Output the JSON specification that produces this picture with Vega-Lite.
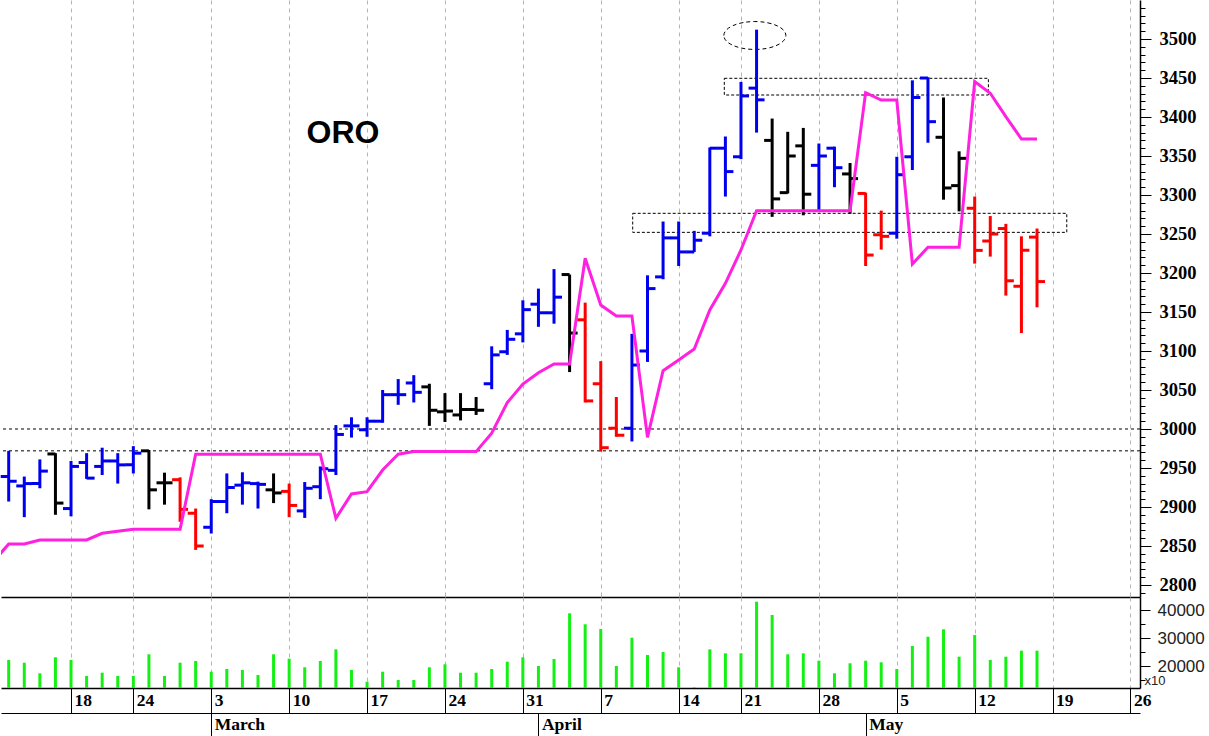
{
  "$schema": "https://vega.github.io/schema/vega-lite/v6.json",
  "padding": 0,
  "background": "white",
  "spacing": 0,
  "bounds": "flush",
  "config": {"view": {"stroke": null}},
  "datasets": {
    "px": [
      {"d": "2025-02-10", "t": 0, "o": null, "h": null, "l": null, "c": null, "k": "b", "s": 2829.5, "v": null},
      {"d": "2025-02-11", "t": 1, "o": 2939, "h": 2972, "l": 2907, "c": 2933, "k": "b", "s": 2852.6, "v": 22321},
      {"d": "2025-02-12", "t": 2, "o": 2927, "h": 2939, "l": 2887, "c": 2930, "k": "b", "s": 2852.6, "v": 21357},
      {"d": "2025-02-13", "t": 3, "o": 2930, "h": 2961, "l": 2924, "c": 2946, "k": "b", "s": 2857.7, "v": 17571},
      {"d": "2025-02-14", "t": 4, "o": 2968, "h": 2969, "l": 2890, "c": 2905, "k": "k", "s": 2857.7, "v": 23286},
      {"d": "2025-02-18", "t": 5, "o": 2898, "h": 2959, "l": 2888, "c": 2952, "k": "b", "s": 2857.7, "v": 22321},
      {"d": "2025-02-19", "t": 6, "o": 2957, "h": 2969, "l": 2936, "c": 2937, "k": "b", "s": 2857.7, "v": 16607},
      {"d": "2025-02-20", "t": 7, "o": 2952, "h": 2976, "l": 2941, "c": 2959, "k": "b", "s": 2866.3, "v": 17786},
      {"d": "2025-02-21", "t": 8, "o": 2959, "h": 2969, "l": 2930, "c": 2954, "k": "b", "s": 2869, "v": 16607},
      {"d": "2025-02-24", "t": 9, "o": 2954, "h": 2978, "l": 2943, "c": 2969, "k": "b", "s": 2871.4, "v": 16607},
      {"d": "2025-02-25", "t": 10, "o": 2972, "h": 2973, "l": 2897, "c": 2922, "k": "k", "s": 2871.4, "v": 24357},
      {"d": "2025-02-26", "t": 11, "o": 2931, "h": 2944, "l": 2903, "c": 2931, "k": "k", "s": 2871.4, "v": 16607},
      {"d": "2025-02-27", "t": 12, "o": 2935, "h": 2938, "l": 2881, "c": 2897, "k": "r", "s": 2871.4, "v": 21357},
      {"d": "2025-02-28", "t": 13, "o": 2892, "h": 2898, "l": 2845, "c": 2850, "k": "r", "s": 2967.6, "v": 21964},
      {"d": "2025-03-03", "t": 14, "o": 2874, "h": 2910, "l": 2866, "c": 2907, "k": "b", "s": 2967.6, "v": 18143},
      {"d": "2025-03-04", "t": 15, "o": 2907, "h": 2943, "l": 2892, "c": 2925, "k": "b", "s": 2967.6, "v": 19107},
      {"d": "2025-03-05", "t": 16, "o": 2928, "h": 2944.5, "l": 2903, "c": 2931, "k": "b", "s": 2967.6, "v": 18750},
      {"d": "2025-03-06", "t": 17, "o": 2930, "h": 2932.5, "l": 2898, "c": 2929, "k": "b", "s": 2967.6, "v": 16964},
      {"d": "2025-03-07", "t": 18, "o": 2922, "h": 2943, "l": 2905, "c": 2918, "k": "k", "s": 2967.6, "v": 24357},
      {"d": "2025-03-10", "t": 19, "o": 2920, "h": 2930, "l": 2887, "c": 2902, "k": "r", "s": 2967.6, "v": 22786},
      {"d": "2025-03-11", "t": 20, "o": 2895, "h": 2932, "l": 2886, "c": 2924, "k": "b", "s": 2967.6, "v": 19714},
      {"d": "2025-03-12", "t": 21, "o": 2926, "h": 2952, "l": 2910, "c": 2949, "k": "b", "s": 2967.6, "v": 21964},
      {"d": "2025-03-13", "t": 22, "o": 2947, "h": 3005, "l": 2941, "c": 2993, "k": "b", "s": 2885.5, "v": 26143},
      {"d": "2025-03-14", "t": 23, "o": 3004, "h": 3015, "l": 2989, "c": 3004, "k": "b", "s": 2916.7, "v": 18750},
      {"d": "2025-03-17", "t": 24, "o": 2999, "h": 3015, "l": 2990, "c": 3010, "k": "b", "s": 2919.7, "v": 14571},
      {"d": "2025-03-18", "t": 25, "o": 3010, "h": 3050, "l": 3008, "c": 3044, "k": "b", "s": 2947.4, "v": 18143},
      {"d": "2025-03-19", "t": 26, "o": 3044, "h": 3064, "l": 3031, "c": 3044, "k": "b", "s": 2967.6, "v": 15179},
      {"d": "2025-03-20", "t": 27, "o": 3059, "h": 3069, "l": 3034, "c": 3047, "k": "b", "s": 2971, "v": 15179},
      {"d": "2025-03-21", "t": 28, "o": 3054, "h": 3058, "l": 3004, "c": 3024, "k": "k", "s": 2971, "v": 19714},
      {"d": "2025-03-24", "t": 29, "o": 3022, "h": 3046, "l": 3009, "c": 3023, "k": "k", "s": 2971, "v": 20786},
      {"d": "2025-03-25", "t": 30, "o": 3018, "h": 3046, "l": 3011, "c": 3025, "k": "k", "s": 2971, "v": 17786},
      {"d": "2025-03-26", "t": 31, "o": 3025, "h": 3041, "l": 3018, "c": 3024, "k": "k", "s": 2971, "v": 17786},
      {"d": "2025-03-27", "t": 32, "o": 3058, "h": 3106, "l": 3051, "c": 3095, "k": "b", "s": 2994.5, "v": 19107},
      {"d": "2025-03-28", "t": 33, "o": 3099, "h": 3127, "l": 3095, "c": 3115, "k": "b", "s": 3033.8, "v": 21714},
      {"d": "2025-03-31", "t": 34, "o": 3122, "h": 3165, "l": 3111, "c": 3153, "k": "b", "s": 3057.7, "v": 23286},
      {"d": "2025-04-01", "t": 35, "o": 3160, "h": 3180, "l": 3131, "c": 3149, "k": "b", "s": 3072.2, "v": 20179},
      {"d": "2025-04-02", "t": 36, "o": 3149, "h": 3205, "l": 3135, "c": 3169, "k": "b", "s": 3083.3, "v": 22679},
      {"d": "2025-04-03", "t": 37, "o": 3198, "h": 3198, "l": 3073, "c": 3123, "k": "k", "s": 3083.3, "v": 39000},
      {"d": "2025-04-04", "t": 38, "o": 3140, "h": 3162, "l": 3034, "c": 3036, "k": "r", "s": 3218.8, "v": 35071},
      {"d": "2025-04-07", "t": 39, "o": 3058, "h": 3087, "l": 2971, "c": 2976, "k": "r", "s": 3159, "v": 33393},
      {"d": "2025-04-08", "t": 40, "o": 3001, "h": 3041, "l": 2990, "c": 2992, "k": "r", "s": 3144.9, "v": 20179},
      {"d": "2025-04-09", "t": 41, "o": 3001, "h": 3122, "l": 2984, "c": 3082, "k": "b", "s": 3144.9, "v": 30286},
      {"d": "2025-04-10", "t": 42, "o": 3100, "h": 3197, "l": 3086, "c": 3180, "k": "b", "s": 2989.3, "v": 24107},
      {"d": "2025-04-11", "t": 43, "o": 3195, "h": 3266, "l": 3192, "c": 3245, "k": "b", "s": 3074.8, "v": 25179},
      {"d": "2025-04-14", "t": 44, "o": 3245, "h": 3266, "l": 3209, "c": 3227, "k": "b", "s": 3088.5, "v": 19714},
      {"d": "2025-04-15", "t": 45, "o": 3227, "h": 3254, "l": 3227, "c": 3242, "k": "b", "s": 3102.6, "v": 12571},
      {"d": "2025-04-16", "t": 46, "o": 3251, "h": 3361, "l": 3247, "c": 3360, "k": "b", "s": 3152.6, "v": 26143},
      {"d": "2025-04-17", "t": 47, "o": 3360, "h": 3375, "l": 3298, "c": 3330, "k": "b", "s": 3186.8, "v": 24714},
      {"d": "2025-04-21", "t": 48, "o": 3349, "h": 3445, "l": 3346, "c": 3427, "k": "b", "s": 3229.5, "v": 24714},
      {"d": "2025-04-22", "t": 49, "o": 3437, "h": 3512, "l": 3380, "c": 3422, "k": "b", "s": 3279.9, "v": 43143},
      {"d": "2025-04-23", "t": 50, "o": 3370, "h": 3398, "l": 3272, "c": 3295, "k": "k", "s": 3279.9, "v": 38393},
      {"d": "2025-04-24", "t": 51, "o": 3303, "h": 3381, "l": 3302, "c": 3350, "k": "k", "s": 3279.9, "v": 24357},
      {"d": "2025-04-25", "t": 52, "o": 3363, "h": 3386, "l": 3274, "c": 3301, "k": "k", "s": 3279.9, "v": 24714},
      {"d": "2025-04-28", "t": 53, "o": 3338, "h": 3366, "l": 3279, "c": 3350, "k": "b", "s": 3279.9, "v": 22071},
      {"d": "2025-04-29", "t": 54, "o": 3360, "h": 3362, "l": 3310, "c": 3335, "k": "b", "s": 3279.9, "v": 17571},
      {"d": "2025-04-30", "t": 55, "o": 3327, "h": 3341, "l": 3276, "c": 3321, "k": "k", "s": 3279.9, "v": 21143},
      {"d": "2025-05-01", "t": 56, "o": 3302, "h": 3303, "l": 3209, "c": 3223, "k": "r", "s": 3431.2, "v": 22071},
      {"d": "2025-05-02", "t": 57, "o": 3249, "h": 3280, "l": 3230, "c": 3247, "k": "r", "s": 3421.8, "v": 21500},
      {"d": "2025-05-05", "t": 58, "o": 3251, "h": 3349, "l": 3244, "c": 3326, "k": "b", "s": 3421.8, "v": 19107},
      {"d": "2025-05-06", "t": 59, "o": 3349, "h": 3447, "l": 3332, "c": 3425, "k": "b", "s": 3211.5, "v": 27321},
      {"d": "2025-05-07", "t": 60, "o": 3450, "h": 3451, "l": 3367, "c": 3394, "k": "b", "s": 3232.9, "v": 30643},
      {"d": "2025-05-08", "t": 61, "o": 3374, "h": 3425, "l": 3294, "c": 3309, "k": "k", "s": 3232.9, "v": 33286},
      {"d": "2025-05-09", "t": 62, "o": 3312, "h": 3356, "l": 3279, "c": 3347, "k": "k", "s": 3232.9, "v": 23500},
      {"d": "2025-05-12", "t": 63, "o": 3283, "h": 3298, "l": 3212, "c": 3229, "k": "r", "s": 3445.3, "v": 31250},
      {"d": "2025-05-13", "t": 64, "o": 3241, "h": 3273, "l": 3221, "c": 3250, "k": "r", "s": 3430.4, "v": 22321},
      {"d": "2025-05-14", "t": 65, "o": 3257, "h": 3263, "l": 3171, "c": 3190, "k": "r", "s": 3400.4, "v": 23500},
      {"d": "2025-05-15", "t": 66, "o": 3183, "h": 3247, "l": 3123, "c": 3229, "k": "r", "s": 3371.8, "v": 25643},
      {"d": "2025-05-16", "t": 67, "o": 3246, "h": 3257, "l": 3156, "c": 3189, "k": "r", "s": 3371.8, "v": 25643}
    ],
    "levels": [{"lv": 3000}, {"lv": 2972}],
    "boxes": [
      {"t1": 46.93, "t2": 63.88, "p1": 3449.6, "p2": 3428.2},
      {"t1": 41.05, "t2": 68.91, "p1": 3276.5, "p2": 3252.1}
    ],
    "marks": [{"t": 48.89, "p": 3504.5}],
    "title": [{"t": 22.46, "p": 3379.5, "label": "ORO"}]
  },
  "vconcat": [
    {
      "width": 1139,
      "height": 597,
      "resolve": {"axis": {"y": "independent"}},
      "layer": [
        {
          "data": {"name": "levels"},
          "mark": {"type": "rule", "color": "black", "strokeWidth": 1, "strokeDash": [3, 3]},
          "encoding": {
            "y": {
              "field": "lv", "type": "quantitative",
              "scale": {"domain": [2784.6, 3550], "nice": false, "zero": false},
              "axis": {
                "orient": "right", "title": null, "grid": false, "labels": false, "domain": false,
                "values": [2790, 2800, 2810, 2820, 2830, 2840, 2850, 2860, 2870, 2880, 2890, 2900, 2910, 2920, 2930, 2940, 2950, 2960, 2970, 2980, 2990, 3000, 3010, 3020, 3030, 3040, 3050, 3060, 3070, 3080, 3090, 3100, 3110, 3120, 3130, 3140, 3150, 3160, 3170, 3180, 3190, 3200, 3210, 3220, 3230, 3240, 3250, 3260, 3270, 3280, 3290, 3300, 3310, 3320, 3330, 3340, 3350, 3360, 3370, 3380, 3390, 3400, 3410, 3420, 3430, 3440, 3450, 3460, 3470, 3480, 3490, 3500, 3510, 3520, 3530, 3540],
                "tickSize": 5, "tickColor": "black", "tickWidth": 1
              }
            }
          }
        },
        {
          "data": {"name": "boxes"},
          "mark": {"type": "rect", "fill": "transparent", "stroke": "black", "strokeWidth": 1, "strokeDash": [3, 2]},
          "encoding": {
            "x": {"field": "t1", "type": "quantitative", "scale": {"domain": [0.506, 73.61], "nice": false, "zero": false}},
            "x2": {"field": "t2"},
            "y": {"field": "p1", "type": "quantitative", "axis": null},
            "y2": {"field": "p2"}
          }
        },
        {
          "data": {"name": "marks"},
          "mark": {"type": "point", "shape": "M -1 0 A 1 0.45 0 1 1 1 0 A 1 0.45 0 1 1 -1 0 Z", "size": 3844, "filled": false, "stroke": "black", "strokeWidth": 1, "strokeDash": [4, 3], "opacity": 1},
          "encoding": {
            "x": {"field": "t", "type": "quantitative"},
            "y": {"field": "p", "type": "quantitative", "axis": null}
          }
        },
        {
          "data": {"name": "title"},
          "mark": {"type": "text", "font": "Liberation Sans", "fontWeight": "bold", "fontSize": 32, "align": "center", "baseline": "middle", "color": "black"},
          "encoding": {
            "x": {"field": "t", "type": "quantitative"},
            "y": {"field": "p", "type": "quantitative", "axis": null},
            "text": {"field": "label"}
          }
        },
        {
          "data": {"name": "px"},
          "mark": {"type": "rule", "strokeWidth": 3},
          "encoding": {
            "x": {"field": "t", "type": "quantitative"},
            "y": {"field": "l", "type": "quantitative", "axis": null},
            "y2": {"field": "h"},
            "color": {"field": "k", "type": "nominal", "scale": {"domain": ["b", "k", "r"], "range": ["#0000f0", "#000000", "#ff0000"]}, "legend": null}
          }
        },
        {
          "data": {"name": "px"},
          "mark": {"type": "tick", "orient": "horizontal", "size": 8, "thickness": 3, "xOffset": -4, "opacity": 1},
          "encoding": {
            "x": {"field": "t", "type": "quantitative"},
            "y": {"field": "o", "type": "quantitative", "axis": null},
            "color": {"field": "k", "type": "nominal", "legend": null}
          }
        },
        {
          "data": {"name": "px"},
          "mark": {"type": "tick", "orient": "horizontal", "size": 8, "thickness": 3, "xOffset": 4, "opacity": 1},
          "encoding": {
            "x": {"field": "t", "type": "quantitative"},
            "y": {"field": "c", "type": "quantitative", "axis": null},
            "color": {"field": "k", "type": "nominal", "legend": null}
          }
        },
        {
          "data": {"name": "px"},
          "mark": {"type": "line", "color": "#ff20e0", "strokeWidth": 3, "clip": true},
          "encoding": {
            "x": {
              "field": "t", "type": "quantitative",
              "axis": {
                "values": [5, 9, 14, 19, 24, 29, 34, 39, 44, 48, 53, 58, 63, 68, 73],
                "grid": true, "gridDash": [4, 4], "gridColor": "#b4b4b4", "gridWidth": 1,
                "labels": false, "ticks": false, "domain": true, "domainColor": "black", "domainWidth": 1.5, "title": null
              }
            },
            "y": {
              "field": "s", "type": "quantitative",
              "axis": {
                "orient": "right", "title": null, "grid": false, "format": "d",
                "values": [2800, 2850, 2900, 2950, 3000, 3050, 3100, 3150, 3200, 3250, 3300, 3350, 3400, 3450, 3500],
                "tickSize": 11, "tickColor": "black", "tickWidth": 1, "domainColor": "black", "domainWidth": 1.5,
                "labelPadding": 8, "labelFont": "Liberation Serif", "labelFontWeight": "bold", "labelFontSize": 18.5, "labelColor": "black",
                "labelOverlap": false, "labelBound": false
              }
            }
          }
        }
      ]
    },
    {
      "width": 1139,
      "height": 91,
      "resolve": {"axis": {"x": "independent"}},
      "layer": [
        {
          "data": {"name": "px"},
          "mark": {"type": "rule", "strokeWidth": 3, "color": "#14f014", "clip": true},
          "encoding": {
            "x": {
              "field": "t", "type": "quantitative",
              "scale": {"domain": [0.506, 73.61], "nice": false, "zero": false},
              "axis": {
                "orient": "bottom", "title": null,
                "values": [5, 9, 14, 19, 24, 29, 34, 39, 44, 48, 53, 58, 63, 68, 73],
                "labelExpr": "['18','24','3','10','17','24','31','7','14','21','28','5','12','19','26'][indexof([5,9,14,19,24,29,34,39,44,48,53,58,63,68,73], datum.value)]",
                "grid": true, "gridDash": [4, 4], "gridColor": "#b4b4b4", "gridWidth": 1,
                "tickSize": 25, "tickColor": "black", "tickWidth": 1, "domainColor": "black", "domainWidth": 1.5,
                "labelAlign": "left", "labelBaseline": "top", "labelPadding": -22, "labelOffset": 3,
                "labelFont": "Liberation Serif", "labelFontWeight": "bold", "labelFontSize": 17.5, "labelColor": "black",
                "labelOverlap": false, "labelBound": false, "labelFlush": false
              }
            },
            "y": {
              "field": "v", "type": "quantitative",
              "scale": {"domain": [12321, 44821], "nice": false, "zero": false},
              "axis": {
                "orient": "right", "grid": false, "format": "d",
                "values": [15000, 20000, 25000, 30000, 35000, 40000],
                "labelExpr": "datum.value % 10000 == 0 ? datum.label : ''",
                "tickSize": {"condition": {"test": "datum.value % 10000 == 0", "value": 10}, "value": 5},
                "tickColor": "black", "domainColor": "black", "domainWidth": 1.5,
                "labelPadding": 7, "labelFont": "Liberation Sans", "labelFontSize": 17, "labelColor": "#222222",
                "labelOverlap": false, "labelBound": false,
                "title": "x10", "titleAngle": 0, "titleFont": "Liberation Sans", "titleFontSize": 13, "titleFontWeight": "normal",
                "titleAlign": "left", "titleBaseline": "middle", "titleX": 4, "titleY": 83, "titleColor": "#222222"
              }
            },
            "y2": {"datum": 0}
          }
        },
        {
          "data": {"name": "marks"},
          "mark": {"type": "point", "opacity": 0},
          "encoding": {
            "x": {
              "field": "t", "type": "quantitative",
              "axis": {
                "orient": "bottom", "title": null, "offset": 25,
                "values": [14, 35, 56],
                "labelExpr": "datum.value == 14 ? 'March' : datum.value == 35 ? 'April' : 'May'",
                "grid": false, "tickSize": 24, "tickColor": "black", "tickWidth": 1, "domainColor": "black", "domainWidth": 1,
                "labelAlign": "left", "labelBaseline": "top", "labelPadding": -22, "labelOffset": 3,
                "labelFont": "Liberation Serif", "labelFontWeight": "bold", "labelFontSize": 17.5, "labelColor": "black",
                "labelOverlap": false, "labelBound": false, "labelFlush": false
              }
            }
          }
        }
      ]
    }
  ]
}
